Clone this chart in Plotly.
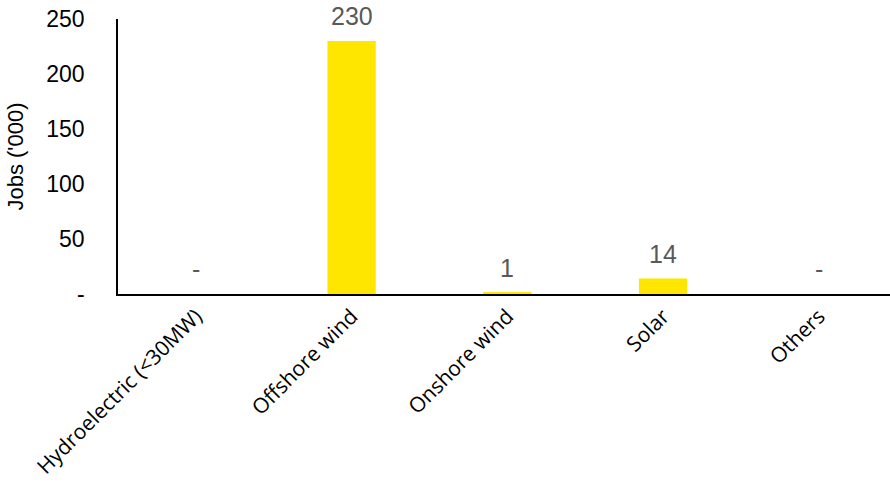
import plotly.graph_objects as go

categories = ["Hydroelectric (<30MW)", "Offshore wind", "Onshore wind", "Solar", "Others"]
jobs = [0, 230, 1, 14, 0]
value_labels = ["-", "230", "1", "14", "-"]
y_tickvals = [0, 50, 100, 150, 200, 250]
y_ticktext = ["-", "50", "100", "150", "200", "250"]

fig = go.Figure()
fig.add_trace(go.Bar(
    x=categories, y=jobs,
    marker=dict(color="#FFE600", line=dict(width=0)),
    width=0.31,
))

for cat, val, lab in zip(categories, jobs, value_labels):
    fig.add_annotation(
        x=cat, y=val, text=lab, showarrow=False,
        xanchor="center", yanchor="bottom", yshift=9,
        font=dict(family="Liberation Sans, Arial", size=25, color="#595959"),
    )

fig.update_layout(
    width=890, height=486,
    margin=dict(l=118, r=0, t=19, b=192),
    paper_bgcolor="white", plot_bgcolor="white",
    showlegend=False,
    xaxis=dict(
        range=[-0.5, 4.457], tickangle=-45, automargin=False,
        tickfont=dict(family="Open Sans, Noto Sans", size=21, color="#000000"),
        showline=True, linecolor="#000000", linewidth=1.5,
        showgrid=False, ticks="", zeroline=False,
        ticklabeloverflow="allow",
    ),
    yaxis=dict(
        range=[0, 250], tickvals=y_tickvals, ticktext=y_ticktext, automargin=False,
        tickfont=dict(family="Liberation Sans, Arial", size=23, color="#000000"),
        showline=True, linecolor="#000000", linewidth=1.5,
        showgrid=False, ticks="", zeroline=False,
        ticklabelstandoff=27, ticklabeloverflow="allow",
        title=dict(text="Jobs ('000)", font=dict(family="Liberation Sans, Arial", size=22, color="#000000"), standoff=17),
    ),
)

# remove the browser's default 8px body margin so the figure sits at the page origin
fig.write_html(
    "out.html",
    config={"displayModeBar": False},
    post_script="document.body.style.margin='0';window.dispatchEvent(new Event('resize'));",
)
